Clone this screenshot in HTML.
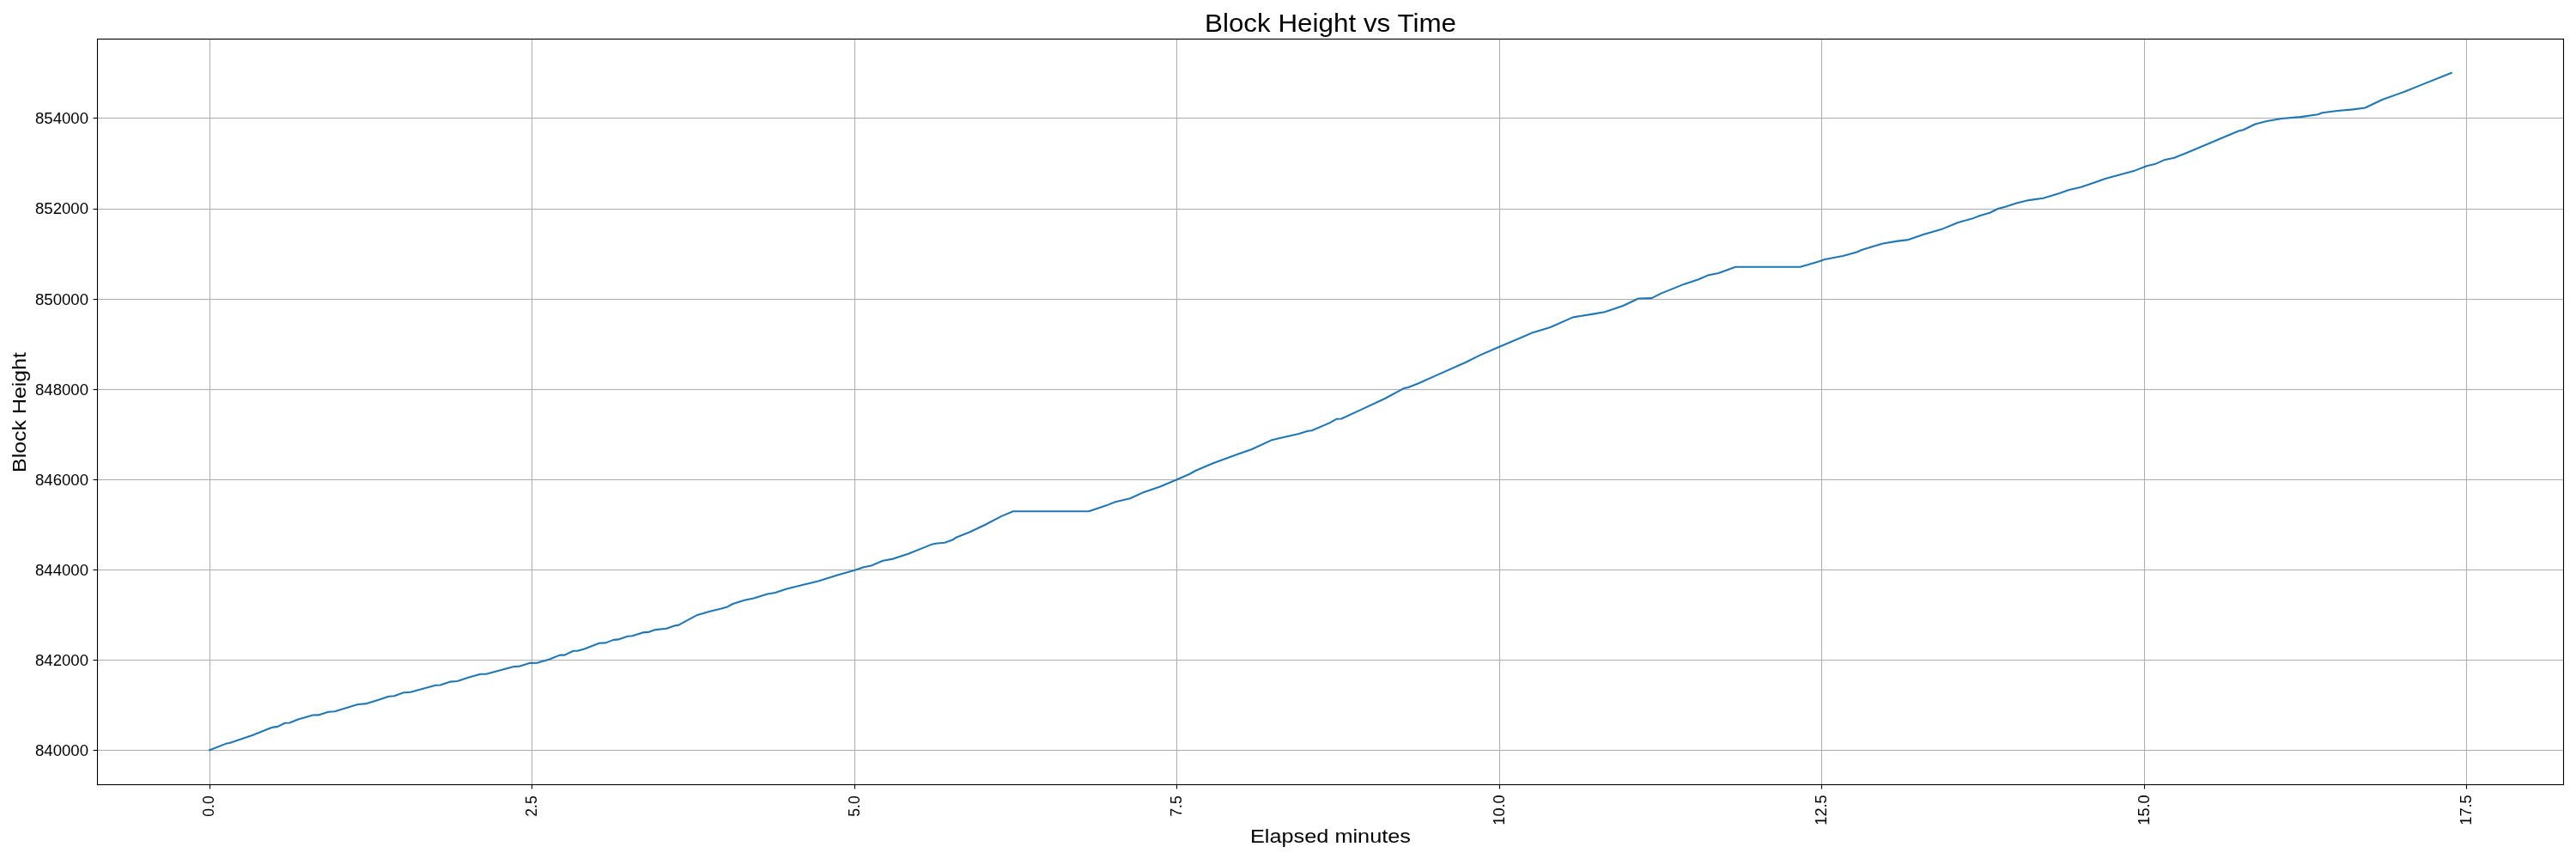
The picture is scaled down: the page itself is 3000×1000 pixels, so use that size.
<!DOCTYPE html>
<html><head><meta charset="utf-8"><style>
html,body{margin:0;padding:0;background:#fff;width:3000px;height:1000px;overflow:hidden}
svg{display:block;will-change:transform}
text{font-family:"Liberation Sans",sans-serif;fill:#000}
.t{font-size:29.4px}
.l{font-size:22.8px}
.k{font-size:17.8px}
</style></head><body>
<svg width="3000" height="1000" viewBox="0 0 3000 1000">
<rect width="3000" height="1000" fill="#fff"/>
<rect x="243.945" y="45" width="1.111" height="868" fill="#b0b0b0"/><rect x="618.944" y="45" width="1.111" height="868" fill="#b0b0b0"/><rect x="994.944" y="45" width="1.111" height="868" fill="#b0b0b0"/><rect x="1369.945" y="45" width="1.111" height="868" fill="#b0b0b0"/><rect x="1745.945" y="45" width="1.111" height="868" fill="#b0b0b0"/><rect x="2120.945" y="45" width="1.111" height="868" fill="#b0b0b0"/><rect x="2496.945" y="45" width="1.111" height="868" fill="#b0b0b0"/><rect x="2871.945" y="45" width="1.111" height="868" fill="#b0b0b0"/><rect x="113" y="872.944" width="2872" height="1.111" fill="#b0b0b0"/><rect x="113" y="767.944" width="2872" height="1.111" fill="#b0b0b0"/><rect x="113" y="662.944" width="2872" height="1.111" fill="#b0b0b0"/><rect x="113" y="557.944" width="2872" height="1.111" fill="#b0b0b0"/><rect x="113" y="452.945" width="2872" height="1.111" fill="#b0b0b0"/><rect x="113" y="347.945" width="2872" height="1.111" fill="#b0b0b0"/><rect x="113" y="242.945" width="2872" height="1.111" fill="#b0b0b0"/><rect x="113" y="136.945" width="2872" height="1.111" fill="#b0b0b0"/>
<path d="M244.1 873.1 L263.6 865.6 L267.2 864.9 L294.5 855.7 L314.4 847.7 L318.1 846.6 L323.5 845.9 L331.7 841.8 L337.1 841.5 L347.1 837.5 L364.4 832.5 L370.7 832.4 L382.5 828.8 L389.8 828.2 L412.5 821.2 L417.0 820.0 L427.0 819.1 L440.0 815.0 L452.7 810.7 L459.0 810.2 L470.1 806.2 L478.0 805.7 L507.3 797.8 L512.8 797.5 L524.7 793.6 L532.6 793.0 L545.3 788.7 L559.6 784.7 L566.7 784.6 L586.5 779.2 L598.4 776.0 L605.5 775.6 L616.6 771.9 L626.1 771.6 L640.0 767.5 L652.0 762.6 L657.5 762.6 L667.6 757.8 L672.2 757.8 L680.5 755.5 L697.9 748.8 L705.3 748.4 L714.5 744.9 L720.0 744.4 L731.0 740.8 L736.6 740.3 L748.5 736.4 L754.9 735.9 L763.2 733.1 L776.1 731.8 L786.2 728.2 L789.9 727.9 L812.0 715.9 L826.7 711.8 L840.0 708.5 L847.2 706.4 L853.4 703.0 L866.9 698.8 L877.7 696.6 L893.8 691.6 L902.8 689.9 L916.2 685.4 L938.6 680.0 L953.0 676.4 L974.5 669.7 L995.5 663.7 L1005.8 660.3 L1014.8 658.5 L1028.3 652.7 L1040.0 650.6 L1057.7 644.7 L1084.2 634.1 L1089.5 632.8 L1100.2 631.7 L1109.9 628.3 L1113.4 625.7 L1128.5 619.7 L1146.1 611.5 L1166.5 600.9 L1179.8 595.2 L1268.0 595.2 L1288.0 588.6 L1299.1 584.3 L1316.1 580.3 L1332.1 572.9 L1351.1 566.5 L1370.1 558.5 L1385.1 552.0 L1392.2 548.0 L1412.2 539.5 L1440.0 529.2 L1457.3 523.2 L1480.3 512.6 L1488.4 510.5 L1512.6 505.1 L1523.0 501.7 L1527.6 501.3 L1548.4 492.4 L1556.4 487.8 L1562.2 487.5 L1585.2 476.9 L1612.9 464.0 L1634.8 452.1 L1640.0 451.0 L1652.0 446.3 L1672.4 437.1 L1706.0 422.3 L1723.9 413.4 L1746.7 403.5 L1783.9 387.6 L1789.9 385.8 L1805.5 381.0 L1831.8 369.4 L1840.0 368.0 L1853.4 365.9 L1868.7 363.2 L1890.2 356.0 L1908.1 347.5 L1923.4 347.1 L1935.0 341.4 L1961.0 330.9 L1978.1 325.3 L1988.8 320.6 L2001.4 317.9 L2021.1 310.7 L2096.6 310.7 L2118.0 304.6 L2125.0 302.1 L2146.1 298.0 L2161.7 293.7 L2168.7 290.8 L2183.5 286.3 L2192.9 283.5 L2210.0 280.6 L2222.5 279.1 L2240.0 272.9 L2260.7 267.1 L2280.5 259.0 L2296.6 254.6 L2306.0 251.0 L2317.3 247.7 L2326.8 243.0 L2336.2 240.5 L2348.4 236.4 L2362.6 233.1 L2379.6 230.8 L2398.4 225.1 L2409.7 220.9 L2422.9 218.0 L2440.0 212.2 L2451.8 208.0 L2485.0 199.1 L2500.0 193.2 L2509.6 191.1 L2521.4 185.9 L2532.1 183.8 L2553.6 175.0 L2564.3 170.5 L2592.1 158.7 L2607.1 152.5 L2612.5 151.2 L2626.4 144.5 L2640.0 141.0 L2657.5 138.0 L2679.3 136.1 L2699.4 133.3 L2704.6 131.3 L2722.1 129.0 L2740.4 127.4 L2754.4 125.5 L2774.4 116.0 L2801.5 106.3 L2817.2 99.9 L2854.8 84.8" fill="none" stroke="#1f77b4" stroke-width="2.083" stroke-linejoin="round" stroke-linecap="square"/>
<rect x="112.945" y="44.945" width="1.111" height="869.11" fill="#000"/>
<rect x="2984.945" y="44.945" width="1.111" height="869.11" fill="#000"/>
<rect x="112.945" y="44.945" width="2873.11" height="1.111" fill="#000"/>
<rect x="112.945" y="912.945" width="2873.11" height="1.111" fill="#000"/>
<rect x="243.945" y="913.5" width="1.111" height="5" fill="#000"/><rect x="618.944" y="913.5" width="1.111" height="5" fill="#000"/><rect x="994.944" y="913.5" width="1.111" height="5" fill="#000"/><rect x="1369.945" y="913.5" width="1.111" height="5" fill="#000"/><rect x="1745.945" y="913.5" width="1.111" height="5" fill="#000"/><rect x="2120.945" y="913.5" width="1.111" height="5" fill="#000"/><rect x="2496.945" y="913.5" width="1.111" height="5" fill="#000"/><rect x="2871.945" y="913.5" width="1.111" height="5" fill="#000"/><rect x="108.5" y="872.944" width="5" height="1.111" fill="#000"/><rect x="108.5" y="767.944" width="5" height="1.111" fill="#000"/><rect x="108.5" y="662.944" width="5" height="1.111" fill="#000"/><rect x="108.5" y="557.944" width="5" height="1.111" fill="#000"/><rect x="108.5" y="452.945" width="5" height="1.111" fill="#000"/><rect x="108.5" y="347.945" width="5" height="1.111" fill="#000"/><rect x="108.5" y="242.945" width="5" height="1.111" fill="#000"/><rect x="108.5" y="136.945" width="5" height="1.111" fill="#000"/>
<text class="t" x="1403" y="36.6" textLength="293" lengthAdjust="spacingAndGlyphs">Block Height vs Time</text>
<text class="l" x="1456" y="980.5" textLength="187" lengthAdjust="spacingAndGlyphs">Elapsed minutes</text>
<text class="l" transform="translate(29.8,550) rotate(-90)" textLength="140" lengthAdjust="spacingAndGlyphs">Block Height</text>
<text class="k" transform="translate(248.6,926.3) rotate(-90)" text-anchor="end" textLength="24.4" lengthAdjust="spacingAndGlyphs">0.0</text><text class="k" transform="translate(624.6,926.3) rotate(-90)" text-anchor="end" textLength="24.4" lengthAdjust="spacingAndGlyphs">2.5</text><text class="k" transform="translate(1000.5,926.3) rotate(-90)" text-anchor="end" textLength="24.4" lengthAdjust="spacingAndGlyphs">5.0</text><text class="k" transform="translate(1375.5,926.3) rotate(-90)" text-anchor="end" textLength="24.4" lengthAdjust="spacingAndGlyphs">7.5</text><text class="k" transform="translate(1751.5,925.3) rotate(-90)" text-anchor="end" textLength="35.4" lengthAdjust="spacingAndGlyphs">10.0</text><text class="k" transform="translate(2126.6,925.3) rotate(-90)" text-anchor="end" textLength="35.4" lengthAdjust="spacingAndGlyphs">12.5</text><text class="k" transform="translate(2502.5,925.3) rotate(-90)" text-anchor="end" textLength="35.4" lengthAdjust="spacingAndGlyphs">15.0</text><text class="k" transform="translate(2877.5,925.3) rotate(-90)" text-anchor="end" textLength="35.4" lengthAdjust="spacingAndGlyphs">17.5</text>
<text class="k" x="103" y="880" text-anchor="end" textLength="62" lengthAdjust="spacingAndGlyphs">840000</text><text class="k" x="103" y="775" text-anchor="end" textLength="62" lengthAdjust="spacingAndGlyphs">842000</text><text class="k" x="103" y="670" text-anchor="end" textLength="62" lengthAdjust="spacingAndGlyphs">844000</text><text class="k" x="103" y="565" text-anchor="end" textLength="62" lengthAdjust="spacingAndGlyphs">846000</text><text class="k" x="103" y="460" text-anchor="end" textLength="62" lengthAdjust="spacingAndGlyphs">848000</text><text class="k" x="103" y="355" text-anchor="end" textLength="62" lengthAdjust="spacingAndGlyphs">850000</text><text class="k" x="103" y="249" text-anchor="end" textLength="62" lengthAdjust="spacingAndGlyphs">852000</text><text class="k" x="103" y="144" text-anchor="end" textLength="62" lengthAdjust="spacingAndGlyphs">854000</text>
</svg>
</body></html>
